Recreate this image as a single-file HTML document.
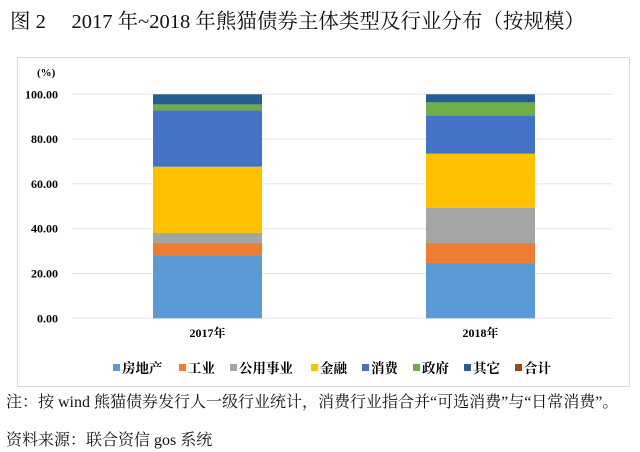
<!DOCTYPE html>
<html><head><meta charset="utf-8">
<style>
body{margin:0;background:#fff;width:640px;height:452px;overflow:hidden;font-family:"Liberation Serif","Noto Serif CJK SC",serif;}
.t{position:absolute;white-space:nowrap;color:#111;}
</style></head>
<body>
<div class="t" style="left:10px;top:4px;font-size:20.5px;">图 2&nbsp;&nbsp;&nbsp;&nbsp;&nbsp;2017 年~2018 年熊猫债券主体类型及行业分布（按规模）</div>
<svg id="c" width="640" height="452" style="position:absolute;left:0;top:0"></svg>
<div class="t" style="left:6px;top:389px;font-size:16px;">注：按 wind 熊猫债券发行人一级行业统计，消费行业指合并“可选消费”与“日常消费”。</div>
<div class="t" style="left:6px;top:427px;font-size:16px;">资料来源：联合资信 gos 系统</div>
<script>
const categories=["2017年","2018年"];
const seriesNames=["房地产","工业","公用事业","金融","消费","政府","其它","合计"];
const colors=["#5B9BD5","#ED7D31","#A5A5A5","#FFC000","#4472C4","#70AD47","#255E91","#9E480E"];
const s2017=[27.8,5.8,4.5,29.6,25.1,2.7,4.5];
const s2018=[24.7,8.9,15.7,24.2,17.1,5.8,3.6];
const ticks=[0,20,40,60,80,100];
const tickLabels=["0.00","20.00","40.00","60.00","80.00","100.00"];
const series=[s2017,s2018];
const NS="http://www.w3.org/2000/svg";
const svg=document.getElementById('c');
function el(t,a){const e=document.createElementNS(NS,t);for(const k in a)e.setAttribute(k,a[k]);svg.appendChild(e);return e;}
const y0=318.3,y1=94.3,yScale=v=>y0-(y0-y1)*v/100;
const xl=72,xr=612,xCenter=i=>207.5+i*273,bw=109;
const box=el('rect',{x:17.5,y:57.5,width:612,height:329,fill:'#fff',stroke:'#d9d9d9'});


const unit=el('text',{x:37,y:76,'font-size':11,'font-weight':'bold','font-family':'Liberation Serif'});unit.textContent='(%)';


ticks.forEach((t,i)=>{
  const g=el('line',{x1:xl,x2:xr,y1:yScale(t),y2:yScale(t),stroke:'#e3e3e3'});
  
  
  const l=el('text',{x:58,y:yScale(t)+4,'text-anchor':'end','font-size':12,'font-weight':'bold','font-family':'Liberation Serif'});
  l.textContent=tickLabels[i];
  
  
});
series.forEach((vals,i)=>{
  let acc=0;
  vals.forEach((v,j)=>{
    const r=el('rect',{x:xCenter(i)-bw/2,y:yScale(acc+v),width:bw,height:yScale(acc)-yScale(acc+v),fill:colors[j]});
    
    
    acc+=v;
  });
  const c=el('text',{x:xCenter(i),y:337,'text-anchor':'middle','font-size':12,'font-weight':'bold','font-family':'Liberation Serif, Noto Serif CJK SC, serif'});
  c.textContent=categories[i];
  
  
});
const lx=[113,179,230,311,362,413,464,515];
seriesNames.forEach((n,j)=>{
  const r=el('rect',{x:lx[j],y:364,width:7,height:7,fill:colors[j]});
  
  
  const t=el('text',{x:lx[j]+9,y:373,'font-size':13.5,'font-weight':'bold','font-family':'Liberation Serif, Noto Serif CJK SC, serif'});
  t.textContent=n;
  
  
});
</script>
</body></html>
